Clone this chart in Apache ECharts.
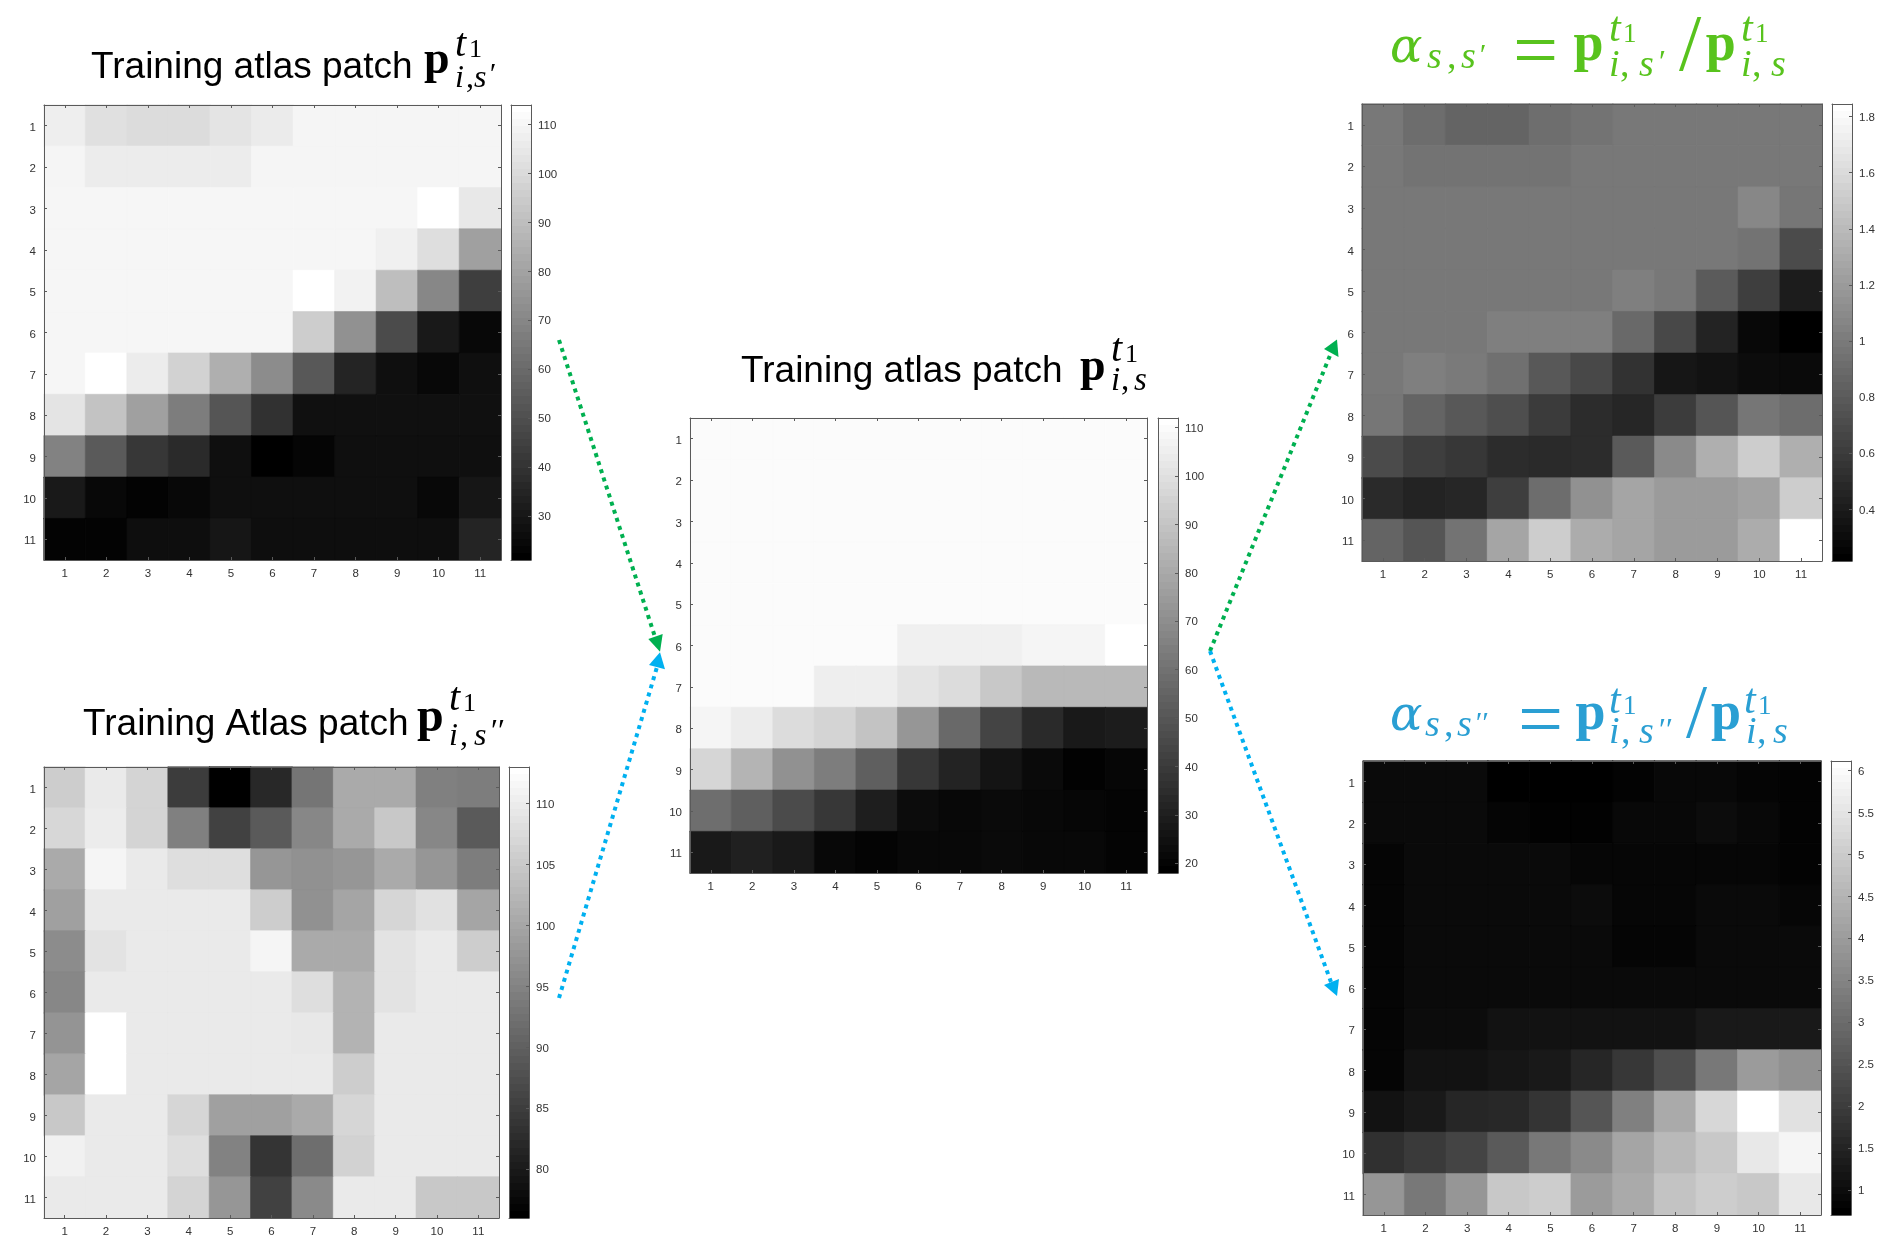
<!DOCTYPE html>
<html><head><meta charset="utf-8">
<style>html,body{margin:0;padding:0;background:#fff}#c{width:1900px;height:1252px}</style>
<script src="https://cdn.jsdelivr.net/npm/echarts@6/dist/echarts.min.js"></script>
</head><body><div id="c"></div>
<script>
const tickLabels = ['1','2','3','4','5','6','7','8','9','10','11'];

const atlasSPrime = [
 [107.8,102.8,101.3,101.3,104.2,106.8,110.4,110.4,110.4,110.4,110.4],
 [110.4,107,107,107,107,110.4,110.4,110.4,110.4,110.4,110.4],
 [110.8,110.8,110.8,110.8,110.8,110.8,110.8,110.8,110.8,114,105.7],
 [110.8,110.8,110.8,110.8,110.8,110.8,110.8,110.8,108.6,102,79.4],
 [110.8,110.8,110.8,110.8,110.8,110.8,114,109.3,90.4,70.3,43.6],
 [110.8,110.8,110.8,110.8,110.8,110.8,95.8,74,48.4,30,24],
 [110.8,114,107,97.7,85,72,53,34,26.5,24,26.5],
 [104,92,79.4,66.6,52,39,27,27,27,27,27],
 [68.5,54,41,36.3,26.5,21,23,26.5,26.5,26.5,26.5],
 [30,24,22,24,26.5,26.5,26.5,26.5,26.5,24,29],
 [22,22,26,26,29,26,26,26,26,26,34]
];
const atlasSDouble = [
 [105.7,110,106.7,84.7,76,81.8,93,100.7,100.7,94.6,94.1],
 [107.2,110.2,106.7,94.6,85.4,89,95.6,100.7,105,95.6,89],
 [100.7,111.5,110,108.2,108.2,97.8,97,97.8,100.7,97.8,94.1],
 [99.2,110,110,110,110,105.7,97,100,107,108.6,100],
 [96.3,109,110,110,110,111.5,100.7,100.7,109,110,105.7],
 [95.6,110,110,110,110,110,108.2,102,109,110,110],
 [97.5,113,110,110,110,110,109.6,102,110,110,110],
 [100,113,110,110,110,110,110,105.7,110,110,110],
 [105,110,110,107,99.2,99.2,100.7,107,110,110,110],
 [111,110,110,108.2,94.9,83.5,92,106.5,110,110,110],
 [110,110,110,106.7,97.8,85.4,96,110,110,105,105]
];
const atlasS = [
 [110.5,110.5,110.5,110.5,110.5,110.5,110.5,110.5,110.5,110.5,110.5],
 [110.5,110.5,110.5,110.5,110.5,110.5,110.5,110.5,110.5,110.5,110.5],
 [110.5,110.5,110.5,110.5,110.5,110.5,110.5,110.5,110.5,110.5,110.5],
 [110.5,110.5,110.5,110.5,110.5,110.5,110.5,110.5,110.5,110.5,110.5],
 [110.5,110.5,110.5,110.5,110.5,110.5,110.5,110.5,110.5,110.5,110.5],
 [110.5,110.5,110.5,110.5,110.5,106.5,106.5,106.5,108.3,108.3,112],
 [110.5,110.5,110.5,105.7,105.7,102,99,91.7,86.2,86.2,86.2],
 [108.3,105,99,96,90,73.3,56.7,43,33.5,27.2,28.3],
 [97,84.3,71.4,64,53,38.3,31,25.4,21.7,18.7,20.2],
 [58.5,53,45.6,38.3,29,22.4,21,21.7,21,20.2,19.5],
 [27.2,29.8,27.2,21,19.5,21,21,21.7,21,21,19.5]
];
const alphaSPrime = [
 [0.98,0.91,0.855,0.855,0.92,0.95,0.98,0.98,0.98,0.98,0.98],
 [0.98,0.95,0.95,0.95,0.95,0.98,0.98,0.98,0.98,0.98,0.98],
 [0.98,0.98,0.98,0.98,0.98,0.98,0.98,0.98,0.98,1.08,0.97],
 [0.98,0.98,0.98,0.98,0.98,0.98,0.98,0.98,0.98,0.95,0.695],
 [0.98,0.98,0.98,0.98,0.98,0.98,1.03,0.98,0.80,0.61,0.395],
 [0.98,0.98,0.98,1.03,1.03,1.03,0.885,0.675,0.44,0.27,0.216],
 [0.98,1.03,0.995,0.93,0.78,0.675,0.535,0.355,0.33,0.29,0.28],
 [0.97,0.855,0.78,0.715,0.59,0.50,0.46,0.60,0.76,0.97,0.91],
 [0.695,0.61,0.565,0.50,0.485,0.50,0.79,1.10,1.335,1.525,1.335],
 [0.485,0.44,0.46,0.61,0.91,1.14,1.27,1.205,1.205,1.25,1.525],
 [0.855,0.76,0.95,1.27,1.525,1.315,1.27,1.205,1.205,1.315,1.845]
];
const alphaSDouble = [
 [0.91,0.91,0.91,0.70,0.70,0.70,0.76,0.87,0.87,0.81,0.76],
 [0.91,0.91,0.91,0.81,0.74,0.74,0.87,0.87,0.95,0.87,0.76],
 [0.81,0.91,0.91,0.91,0.91,0.83,0.83,0.83,0.83,0.83,0.76],
 [0.81,0.91,0.91,0.91,0.91,0.95,0.83,0.83,0.91,0.91,0.83],
 [0.81,0.91,0.91,0.91,0.91,0.91,0.81,0.81,0.91,0.91,0.91],
 [0.81,0.91,0.91,0.91,0.91,0.91,0.91,0.91,0.91,0.91,0.91],
 [0.81,0.95,0.95,1.08,1.08,1.08,1.08,1.08,1.23,1.23,1.23],
 [0.81,1.08,1.08,1.17,1.23,1.51,1.87,2.36,3.25,3.99,3.78],
 [1.08,1.23,1.51,1.55,1.80,2.51,3.42,4.31,5.27,6.115,5.48],
 [1.72,1.93,2.14,2.61,3.25,3.63,4.20,4.63,4.95,5.63,5.90],
 [3.89,3.25,3.89,4.95,5.05,3.99,4.31,4.84,5.05,4.95,5.63]
];

const colorMins = [21,76,18,0.216,0.70];
const colorMaxs = [114,113,112,1.845,6.115];
const colorTicks1 = [30,40,50,60,70,80,90,100,110];
const colorTicks2 = [80,85,90,95,100,105,110];
const colorTicks3 = [20,30,40,50,60,70,80,90,100,110];
const colorTicks4 = [0.4,0.6,0.8,1,1.2,1.4,1.6,1.8];
const colorTicks5 = [1,1.5,2,2.5,3,3.5,4,4.5,5,5.5,6];

const panels = [
 {m:atlasSPrime, t:colorTicks1, x:44, y:105, w:457, h:455, cx:511, cw:20},
 {m:atlasSDouble,t:colorTicks2, x:44, y:767, w:455, h:451, cx:509, cw:20},
 {m:atlasS,      t:colorTicks3, x:690,y:418, w:457, h:455, cx:1158, cw:20},
 {m:alphaSPrime, t:colorTicks4, x:1362,y:104, w:460, h:457, cx:1832, cw:20},
 {m:alphaSDouble,t:colorTicks5, x:1363, y:761, w:458, h:454, cx:1831, cw:20}
];

const AX = '#5a5a5a', LB = '#333333', FF = 'Liberation Sans';
const grid=[], xAxis=[], yAxis=[], series=[];
function bands(){ // stepped 64-level gray gradient, top = white
  const s=[]; const n=64;
  for(let i=0;i<n;i++){ const g=Math.round(255*(n-1-i)/(n-1)); const c=`rgb(${g},${g},${g})`;
    s.push({offset:i/n,color:c}); s.push({offset:(i+1)/n,color:c}); }
  return s;
}
function grayOf(v,lo,hi){ const g=Math.round(255*(v-lo)/(hi-lo)); return `rgb(${g},${g},${g})`; }
panels.forEach((p,i)=>{
  const g0=grid.length;
  grid.push({left:p.x,top:p.y,width:p.w,height:p.h,containLabel:false,show:false});
  grid.push({left:p.cx,top:p.y,width:p.cw,height:p.h,containLabel:false,show:false});
  const xi=xAxis.length, yi=yAxis.length;
  const tick={show:true,inside:true,length:3,alignWithLabel:true,lineStyle:{color:AX,width:1}};
  const line={show:true,onZero:false,lineStyle:{color:AX,width:1}};
  const lbl={show:true,color:LB,fontFamily:FF,fontSize:11.5};
  const shifted=(pad)=>({formatter:'{a|{value}}',rich:{a:{color:LB,fontFamily:FF,fontSize:11.5,padding:[pad,0,0,0]}}});
  xAxis.push({type:'category',gridIndex:g0,data:tickLabels,position:'bottom',z:5,axisLine:line,axisTick:tick,axisLabel:Object.assign({margin:8,interval:0},lbl),splitLine:{show:false}});
  xAxis.push({type:'category',gridIndex:g0,data:tickLabels,position:'top',z:5,axisLine:line,axisTick:tick,axisLabel:{show:false},splitLine:{show:false}});
  yAxis.push({type:'category',gridIndex:g0,data:tickLabels,inverse:true,position:'left',z:5,axisLine:line,axisTick:tick,axisLabel:Object.assign({margin:8,interval:0},lbl,shifted(4)),splitLine:{show:false}});
  yAxis.push({type:'category',gridIndex:g0,data:tickLabels,inverse:true,position:'right',z:5,axisLine:line,axisTick:tick,axisLabel:{show:false},splitLine:{show:false}});
  const cells=[];
  p.m.forEach((row,r)=>row.forEach((v,c)=>{
    const col=grayOf(v,colorMins[i],colorMaxs[i]);
    cells.push({value:[c,r,v],itemStyle:{color:col,borderColor:col,borderWidth:0.6}});
  }));
  series.push({type:'heatmap',xAxisIndex:xi,yAxisIndex:yi,data:cells,silent:true,progressive:0,emphasis:{disabled:true}});
  // colour bar
  xAxis.push({type:'category',gridIndex:g0+1,data:['c'],position:'bottom',z:5,axisLine:line,axisTick:{show:false},axisLabel:{show:false}});
  xAxis.push({type:'category',gridIndex:g0+1,data:['c'],position:'top',z:5,axisLine:line,axisTick:{show:false},axisLabel:{show:false}});
  yAxis.push({type:'value',gridIndex:g0+1,min:colorMins[i],max:colorMaxs[i],position:'right',z:5,scale:true,axisLine:line,splitLine:{show:false},
    axisTick:{show:true,inside:true,length:3,customValues:p.t,lineStyle:{color:AX,width:1}},
    axisLabel:Object.assign({margin:7,customValues:p.t},lbl,shifted(2))});
  yAxis.push({type:'value',gridIndex:g0+1,min:colorMins[i],max:colorMaxs[i],position:'left',z:5,scale:true,axisLine:line,splitLine:{show:false},axisTick:{show:false},axisLabel:{show:false}});
  series.push({type:'bar',xAxisIndex:xi+2,yAxisIndex:yi+2,barWidth:'100%',silent:true,data:[colorMaxs[i]],
    itemStyle:{color:{type:'linear',x:0,y:0,x2:0,y2:1,colorStops:bands()}}});
});

const SANS='Liberation Sans', SERIF='Liberation Serif';
const BLACK='#000', GREEN='#58c31d', BLUE='#2a9fd3';
function txt(t,x,b,size,style,fill,weight,fam){
  const it=style==='i'?'italic ':'', w=weight||'normal', f=fam||(style==='s'?SANS:SERIF);
  return {type:'text',silent:true,z:20,style:{text:t,x:x,y:b-size*0.335,verticalAlign:'middle',align:'left',fill:fill,
    font:`${it}${w} ${size}px "${f}"`}};
}
const g=[];
function pTerm(px,pb,ps,supx,supb,ts,os,subx,subb,ss,comma,sdx,primes,pdx,pSize,c){
  g.push(txt('p',px,pb,ps,'r',c,'bold'));
  g.push(txt('t',supx,supb,ts,'i',c),txt('1',supx+14,supb,os,'r',c));
  g.push(txt('i',subx,subb,ss,'i',c),txt(',',subx+comma,subb,ss,'r',c),txt('s',subx+sdx,subb,ss,'i',c));
  if(primes) g.push(txt(primes,subx+pdx,subb-4,pSize,'i',c));
}
// left and centre titles
g.push(txt('Training atlas patch',91,80,37,'s',BLACK));
pTerm(424,77,46,455,59,40,26,455,89,32,11,19,'′',33,30,BLACK);
g.push(txt('Training Atlas patch',83,737.5,37,'s',BLACK));
pTerm(417,735,48,449,713,40,26,449,747,32,11,25,'′′',40,32,BLACK);
g.push(txt('Training atlas patch',741,384,37,'s',BLACK));
pTerm(1080,384,46,1111,364,40,26,1111,392,33,10,23,null,0,0,BLACK);

// right formula titles
g.push(txt('α',1390,66,48,'i',GREEN,null,'DejaVu Serif'));
g.push(txt('s',1427,71,38,'i',GREEN),txt(',',1447,71,38,'r',GREEN),txt('s',1461,71,38,'i',GREEN),txt('′',1478,66,30,'i',GREEN));
g.push(txt('=',1513,83,80,'r',GREEN));
pTerm(1573.6,64,54,1609,44,42,27,1609,78.5,38,11,30,'′',48,32,GREEN);
g.push(txt('/',1679,75.5,80,'r',GREEN));
pTerm(1705.7,64,54,1741,44,42,27,1741,78.5,38,11,30,null,0,0,GREEN);

g.push(txt('α',1390,734,48,'i',BLUE,null,'DejaVu Serif'));
g.push(txt('s',1425,738.7,38,'i',BLUE),txt(',',1444,738.7,38,'r',BLUE),txt('s',1457,738.7,38,'i',BLUE),txt('′′',1474,734,30,'i',BLUE));
g.push(txt('=',1518,751.5,80,'r',BLUE));
pTerm(1575.5,733,54,1609,716,42,27,1609,746,38,12,30,'′′',48,32,BLUE);
g.push(txt('/',1686,743,76,'r',BLUE));
pTerm(1711,733,54,1744,716,42,27,1746,746,38,11,27,null,0,0,BLUE);

// arrows
const AG='#00b050', AB='#00b0f0';
function arrow(a,b,head,c){
  g.push({type:'polyline',silent:true,z:15,shape:{points:[a,b]},style:{stroke:c,lineWidth:4,lineDash:[4,4.5],fill:null}});
  g.push({type:'polygon',silent:true,z:16,shape:{points:head},style:{fill:c}});
}
arrow([559,340],[655,637],[[648.3,639],[662.7,634],[660,651.7]],AG);
arrow([559,998],[657,667],[[660,652.3],[649,665],[665,669.3]],AB);
arrow([1210,651],[1331,353],[[1324,349],[1338.5,357],[1337,339.5]],AG);
arrow([1210,651],[1331,982],[[1324,985],[1339,979],[1337,996]],AB);

const chart=echarts.init(document.getElementById('c'),null,{renderer:'canvas',width:1900,height:1252});
chart.setOption({animation:false,backgroundColor:'#ffffff',tooltip:{show:false},grid,xAxis,yAxis,series,graphic:{elements:g}});
</script></body></html>
